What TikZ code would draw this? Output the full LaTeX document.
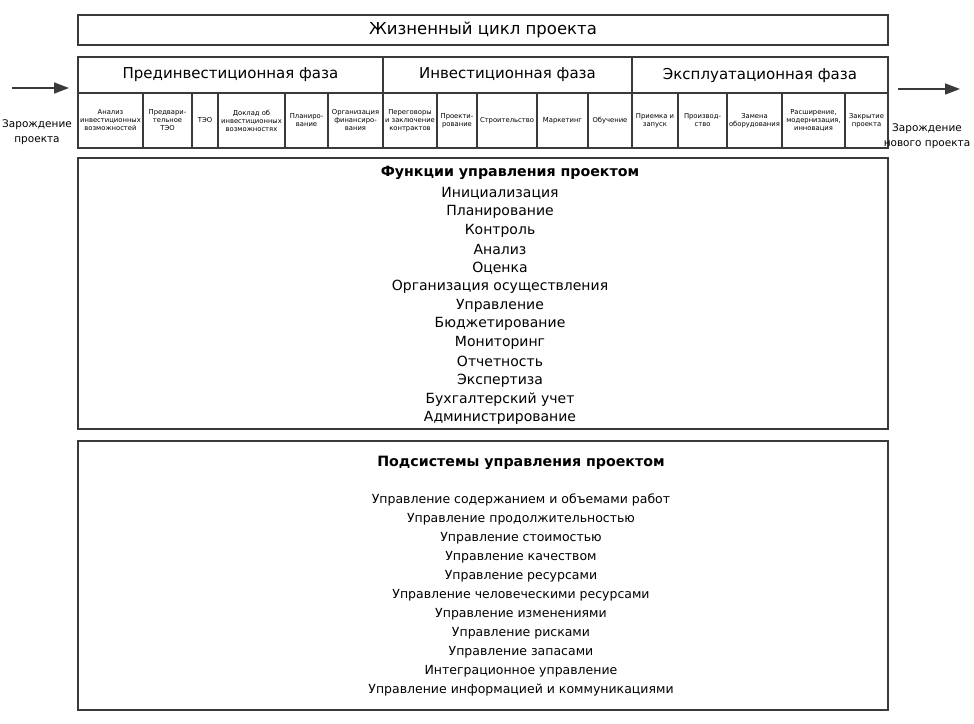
\documentclass[tikz,border=0pt]{standalone}
\usepackage{fontspec}
\setmainfont{DejaVu Sans}
\usepackage{xcolor}
\usetikzlibrary{arrows.meta}
\definecolor{ink}{HTML}{3A3A3A}

\begin{document}
\begin{tikzpicture}[x=1pt, y=-1pt,
  box/.style={draw=ink, line width=1.3pt, inner sep=0pt},
  cell/.style={draw=ink, line width=1.1pt, inner sep=0pt, minimum height=55,
               align=center, font=\fontsize{6.8}{8}\selectfont},
  phase/.style={font=\fontsize{15}{18}\selectfont},
  head/.style={font=\bfseries\fontsize{14.2}{17}\selectfont},
  item/.style={font=\fontsize{12.5}{15}\selectfont, inner sep=0pt},
  side/.style={font=\fontsize{10.5}{15}\selectfont, align=center, inner sep=0pt},
  >={Triangle[length=15pt, width=11pt]}]
\useasboundingbox (0,0) rectangle (974,723);

\node[box, minimum width=810, minimum height=30] (life) at (483,30) {\fontsize{16.5}{19}\selectfont Жизненный цикл проекта};

\node[box, minimum width=305, minimum height=36] (pre) at (230.5,75) {};
\node[box, minimum width=249, minimum height=36] (inv) at (507.5,75) {};
\node[box, minimum width=256, minimum height=36] (expl) at (760,75) {};
\node[phase] (preT) at (pre) {Прединвестиционная фаза};
\node[phase] (invT) at (inv) {Инвестиционная фаза};
\node[phase] (explT) at (expl) {Эксплуатационная фаза};

\foreach \xa/\xb/\txt [count=\i] in {
  78/143/{Анализ\\инвестиционных\\возможностей},
  143/192/{Предвари-\\тельное\\ТЭО},
  192/218/{ТЭО},
  218/285/{Доклад об\\инвестиционных\\возможностях},
  285/328/{Планиро-\\вание},
  328/383/{Организация\\финансиро-\\вания},
  383/437/{Переговоры\\и заключение\\контрактов},
  437/477/{Проекти-\\рование},
  477/537/{Строительство},
  537/588/{Маркетинг},
  588/632/{Обучение},
  632/678/{Приемка и\\запуск},
  678/727/{Производ-\\ство},
  727/782/{Замена\\оборудования},
  782/845/{Расширение,\\модернизация,\\инновация},
  845/888/{Закрытие\\проекта}}
  \node[cell, minimum width={\xb-\xa}] (c\i) at ({(\xa+\xb)/2},120.5) {\txt};

\coordinate (inA) at (12,88);
\coordinate (inB) at (69,88);
\coordinate (outA) at (898,89);
\coordinate (outB) at (960,89);
\draw[->, ink, line width=1.6pt] (inA) -- (inB);
\draw[->, ink, line width=1.6pt] (outA) -- (outB);
\node[side] (born) at (37,132) {Зарождение\\проекта};
\node[side] (reborn) at (927,136) {Зарождение\\нового проекта};

\node[box, minimum width=810, minimum height=271] (func) at (483,293.5) {};
\node[head] (funcT) at (510,173) {Функции управления проектом};
\foreach \t [count=\i] in {Инициализация, Планирование, Контроль, Анализ, Оценка,
  Организация осуществления, Управление, Бюджетирование, Мониторинг, Отчетность,
  Экспертиза, Бухгалтерский учет, Администрирование}
  \node[item, font=\fontsize{14}{16}\selectfont] (f\i) at (500,{193+18.75*(\i-1)}) {\t};

\node[box, minimum width=810, minimum height=269] (subs) at (483,575.5) {};
\node[head] (subsT) at (521,463) {Подсистемы управления проектом};
\foreach \t [count=\i] in {Управление содержанием и объемами работ,
  Управление продолжительностью, Управление стоимостью, Управление качеством,
  Управление ресурсами, Управление человеческими ресурсами, Управление изменениями,
  Управление рисками, Управление запасами, Интеграционное управление,
  Управление информацией и коммуникациями}
  \node[item] (s\i) at (521,{500+19*(\i-1)}) {\t};
\end{tikzpicture}
\end{document}
